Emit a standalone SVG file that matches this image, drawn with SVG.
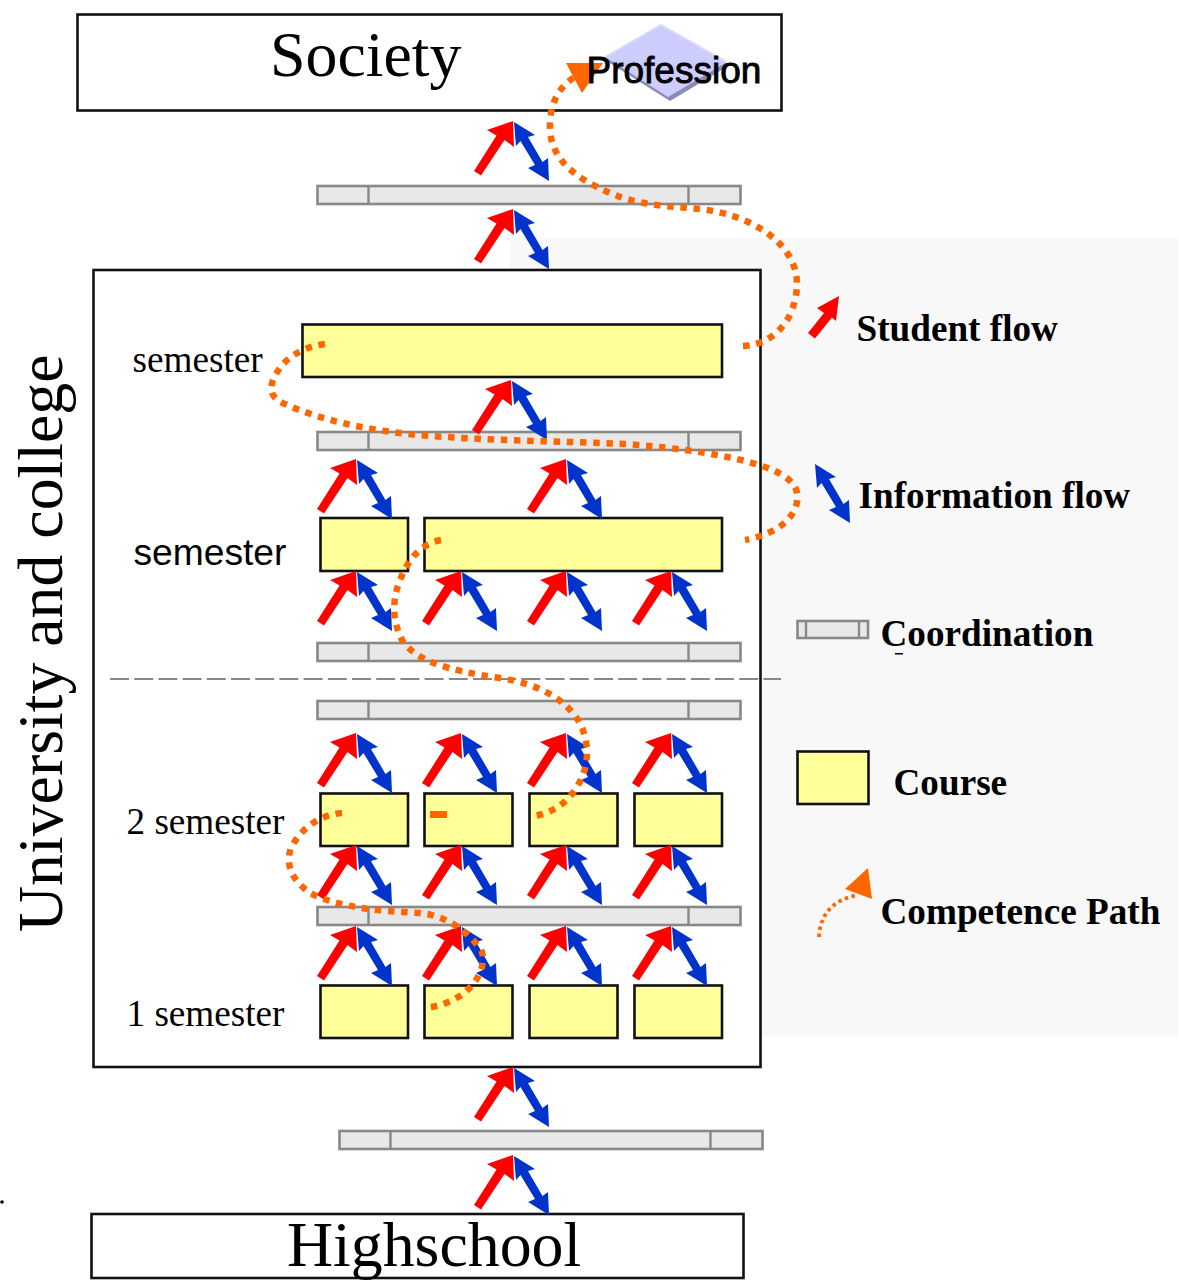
<svg xmlns="http://www.w3.org/2000/svg" xmlns:xlink="http://www.w3.org/1999/xlink" width="1179" height="1282" viewBox="0 0 1179 1282">
<style>
.box{fill:#fff;stroke:#111;stroke-width:2.6}
.course{fill:#ffff99;stroke:#111;stroke-width:2.6}
.bar{fill:#e8e8e8;stroke:#888;stroke-width:2.6}
.div{stroke:#888;stroke-width:2.4;fill:none}
.path{fill:none;stroke:#ff6600;stroke-width:6.5;stroke-dasharray:6.5 6.7}
.big{font-family:"Liberation Serif",serif;font-size:63.8px;fill:#000}
.sem{font-family:"Liberation Serif",serif;font-size:37.2px;fill:#000}
.legend{font-family:"Liberation Serif",serif;font-size:37.2px;font-weight:bold;fill:#000}
.sans{font-family:"Liberation Sans",sans-serif;fill:#000}
.red{fill:#ff0000}
.blue{fill:#0033cc}
</style>
<defs>
<g id="red-arrow">
<polygon class="red" points="0,0 -26,9 -16.500,14.500 -39,50 -32,54.500 -8.500,19 1,26"/>
</g>
<g id="blue-arrow">
<polygon class="blue" points="1,1 22,14 15,16 29.500,41 35,37 36,60 15,47 22,44 7.500,20 3,25"/>
</g>
<g id="pair">
<use href="#red-arrow"/>
<use href="#blue-arrow"/>
</g>
<g id="coord">
<rect class="bar" x="0" y="0" width="423" height="18"/>
<path class="div" d="M51,0V18M371,0V18"/>
</g>
</defs>

<rect id="legend-panel" x="510" y="238" width="668" height="798" fill="#f8f8f8"/>

<g id="society">
<rect class="box" x="77.500" y="14.500" width="704" height="96"/>
<text class="big" x="270" y="76">Society</text>
</g>
<g id="university">
<rect class="box" x="93.500" y="270" width="667" height="797"/>
<text class="big" transform="translate(62,932) rotate(-90)">University and college</text>
</g>
<g id="highschool">
<rect class="box" x="91.500" y="1214" width="652" height="64"/>
<text class="big" x="287" y="1266">Highschool</text>
</g>
<g id="profession">
<polygon points="662,27 730,65 670,101 605,60" fill="#8a8ab8"/>
<polygon points="661,24 727,62 668,97 605,57" fill="#ccccff"/>
<polyline points="605,57 661,25 727,62" fill="none" stroke="#dcdcff" stroke-width="2"/>
</g>

<path id="semester-divider" d="M110,679H781" stroke="#888" stroke-width="2" stroke-dasharray="19 5.2" fill="none"/>

<g id="coordinations">
<use href="#coord" x="317.500" y="186"/>
<use href="#coord" x="317.500" y="432"/>
<use href="#coord" x="317.500" y="643"/>
<use href="#coord" x="317.500" y="701"/>
<use href="#coord" x="317.500" y="907"/>
<use href="#coord" x="339.500" y="1131"/>
</g>

<g id="courses">
<rect class="course" x="302.500" y="324.500" width="419.500" height="52.500"/>
<rect class="course" x="320.500" y="518" width="87.500" height="53"/>
<rect class="course" x="424.500" y="518" width="297.500" height="53"/>
<rect class="course" x="320.500" y="793.500" width="87.500" height="52.500"/>
<rect class="course" x="424.500" y="793.500" width="88" height="52.500"/>
<rect class="course" x="529.500" y="793.500" width="88" height="52.500"/>
<rect class="course" x="634.500" y="793.500" width="87.500" height="52.500"/>
<rect class="course" x="320.500" y="985.500" width="87.500" height="52.500"/>
<rect class="course" x="424.500" y="985.500" width="88" height="52.500"/>
<rect class="course" x="529.500" y="985.500" width="88" height="52.500"/>
<rect class="course" x="634.500" y="985.500" width="87.500" height="52.500"/>
</g>

<g id="connectors">
<use href="#pair" x="513" y="121"/>
<use href="#pair" x="513" y="209"/>
<use href="#pair" x="511" y="380"/>
<use href="#pair" x="356" y="459"/>
<use href="#pair" x="566" y="459"/>
<use href="#pair" x="356" y="571"/>
<use href="#pair" x="461" y="571"/>
<use href="#pair" x="566" y="571"/>
<use href="#pair" x="671" y="571"/>
<use href="#pair" x="356" y="733"/>
<use href="#pair" x="461" y="733"/>
<use href="#pair" x="566" y="733"/>
<use href="#pair" x="671" y="733"/>
<use href="#pair" x="356" y="845"/>
<use href="#pair" x="461" y="845"/>
<use href="#pair" x="566" y="845"/>
<use href="#pair" x="671" y="845"/>
<use href="#pair" x="356" y="926"/>
<use href="#pair" x="461" y="926"/>
<use href="#pair" x="566" y="926"/>
<use href="#pair" x="671" y="926"/>
<use href="#pair" x="513" y="1067"/>
<use href="#pair" x="513" y="1155"/>
<path class="path" d="M743,346C762,345 776,336 786,322C796,306 801,282 793,264C782,236 745,214 700,209C670,206 640,206 610,193C575,178 552,160 550,130C549,102 560,85 578,75"/>
<path class="path" d="M325,344C302,347 285,358 276,374C268,388 270,398 285,404C320,420 370,431 420,435C490,441 560,441 625,444C680,448 730,455 765,467C790,476 800,487 797,502C793,522 772,535 745,540"/>
<path class="path" d="M441,540C420,544 408,560 400,580C392,600 392,620 402,640C415,660 445,670 500,678C540,684 565,700 578,720C590,740 590,765 578,785C568,803 552,813 534,816"/>
<path class="path" d="M342,813C318,815 300,830 291,848C285,865 292,880 310,893C340,908 380,911 420,913C445,915 470,932 482,952C486,968 476,985 460,996C450,1002 440,1006 430,1007"/>
<polygon points="566,63 603,63 582,93" fill="#ff6600"/>
<rect x="430" y="811" width="17" height="7" fill="#ff6600"/>
</g>

<g id="labels">
<text class="sans" x="586.500" y="83" font-size="37" stroke="#000" stroke-width="0.9">Profession</text>
<text class="sem" x="132.500" y="372">semester</text>
<text class="sans" x="133.500" y="565" font-size="37.200">semester</text>
<text class="sem" x="126.500" y="834">2 semester</text>
<text class="sem" x="126.500" y="1026">1 semester</text>
<circle cx="2" cy="1202" r="1.800" fill="#000"/>
</g>

<g id="legend-student-flow">
<polygon class="red" points="839,296 817,308 824,313 808,333 815,338.500 832,317.500 836,321"/>
<text class="legend" x="856.500" y="341">Student flow</text>
</g>
<g id="legend-information-flow">
<use href="#blue-arrow" x="814" y="463"/>
<text class="legend" x="858.500" y="508">Information flow</text>
</g>
<g id="legend-coordination">
<rect class="bar" x="797.500" y="621" width="70.500" height="17"/>
<path class="div" d="M806,621V638M859,621V638"/>
<text class="legend" x="880.500" y="646">Coordination</text>
<rect x="895" y="653" width="8" height="1.500" fill="#000"/>
</g>
<g id="legend-course">
<rect class="course" x="797.500" y="751.500" width="71" height="52.500"/>
<text class="legend" x="893.500" y="795">Course</text>
</g>
<g id="legend-competence-path">
<path d="M819,937C820,915 832,900 858,895" fill="none" stroke="#ff6600" stroke-width="3.800" stroke-dasharray="3.500 3.500"/>
<polygon points="868,868 845,889 872,899" fill="#ff6600"/>
<text class="legend" x="880.500" y="924">Competence Path</text>
</g>
</svg>
